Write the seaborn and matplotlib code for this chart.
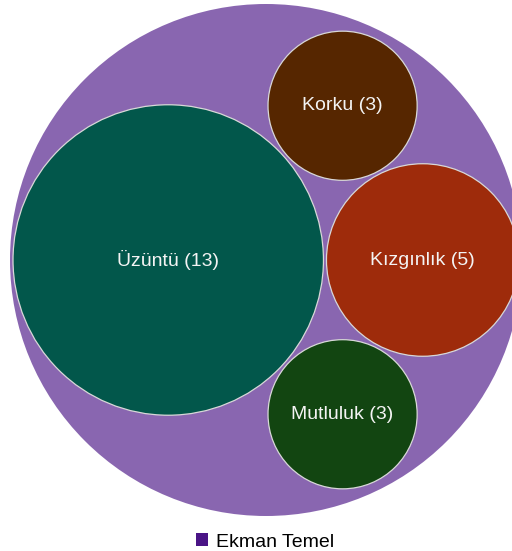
import numpy as np
import matplotlib
matplotlib.use("Agg")
import matplotlib.pyplot as plt
from matplotlib.patches import Circle, Patch
import seaborn as sns

# ---- data ----
group = "Ekman Temel"
labels = ["Üzüntü", "Kızgınlık", "Korku", "Mutluluk"]
values = [13, 5, 3, 3]
colors = ["#02574b", "#9e2b0b", "#562600", "#124511"]
group_color = "#4a1486"

sns.set_theme(style="white")
plt.rcParams['font.family'] = ['Liberation Sans', 'DejaVu Sans']

W, H = 512, 551
R_OUT = 256.0          # outer circle radius in px
PAD = 3.0              # padding between circles in px
CENTER_PX = (266, 260) # outer circle centre in px (from top-left)


def tangent(c1, r1, c2, r2, r, sign):
    d1 = r1 + r + PAD
    d2 = r2 + r + PAD
    v = c2 - c1
    d = np.hypot(*v)
    a = (d1 ** 2 - d2 ** 2 + d ** 2) / (2 * d)
    h = np.sqrt(max(d1 ** 2 - a ** 2, 0))
    u = v / d
    return c1 + a * u + sign * h * np.array([-u[1], u[0]])


def ternary(f, lo, hi, n=80):
    for _ in range(n):
        m1 = lo + (hi - lo) / 3
        m2 = hi - (hi - lo) / 3
        if f(m1) < f(m2):
            hi = m2
        else:
            lo = m1
    return (lo + hi) / 2


def layout(k):
    r = k * np.sqrt(np.array(values, float))
    cA = np.array([0.0, 0.0])
    cB = np.array([r[0] + r[1] + PAD, 0.0])
    cC = tangent(cA, r[0], cB, r[1], r[2], +1)
    cD = tangent(cA, r[0], cB, r[1], r[3], -1)
    cs = np.array([cA, cB, cC, cD])

    def f(x, y):
        return np.max(np.hypot(cs[:, 0] - x, cs[:, 1] - y) + r)

    xlo, xhi = cs[:, 0].min(), cs[:, 0].max()
    ylo, yhi = cs[:, 1].min(), cs[:, 1].max()
    best_x = lambda y: ternary(lambda x: f(x, y), xlo, xhi)
    oy = ternary(lambda y: f(best_x(y), y), ylo, yhi, n=60)
    ox = best_x(oy)
    R = f(ox, oy) + PAD
    return cs, r, np.array([ox, oy]), R


k = 43.0
for _ in range(30):
    cs, r, oc, R = layout(k)
    k *= R_OUT / R
cs, r, oc, R = layout(k)

fig = plt.figure(figsize=(W / 100, H / 100), dpi=100)
ax = fig.add_axes([0, 0, 1, 1])
ax.set_axis_off()
x0 = oc[0] - CENTER_PX[0]
ax.set_xlim(x0, x0 + W)
ax.set_ylim(oc[1] - (H - CENTER_PX[1]), oc[1] + CENTER_PX[1])
ax.set_aspect('equal')

ax.add_patch(Circle(oc, R, facecolor=group_color, alpha=0.65, edgecolor='none'))
for c, rad, col, lab, v in zip(cs, r, colors, labels, values):
    ax.add_patch(Circle(c, rad, facecolor=col, edgecolor='#d8d8d8', linewidth=0.9))
    ax.text(c[0], c[1], f"{lab} ({v})", ha='center', va='center',
            color='#f4f4f4', fontsize=14)

leg = fig.legend(handles=[Patch(facecolor=group_color, edgecolor='none', label=group)],
                 loc='center', bbox_to_anchor=(265 / W, 1 - 542 / H), frameon=False,
                 fontsize=14, handlelength=0.62, handleheight=0.62, handletextpad=0.4)
for t in leg.get_texts():
    t.set_color('black')

fig.savefig("out.png", dpi=100)
